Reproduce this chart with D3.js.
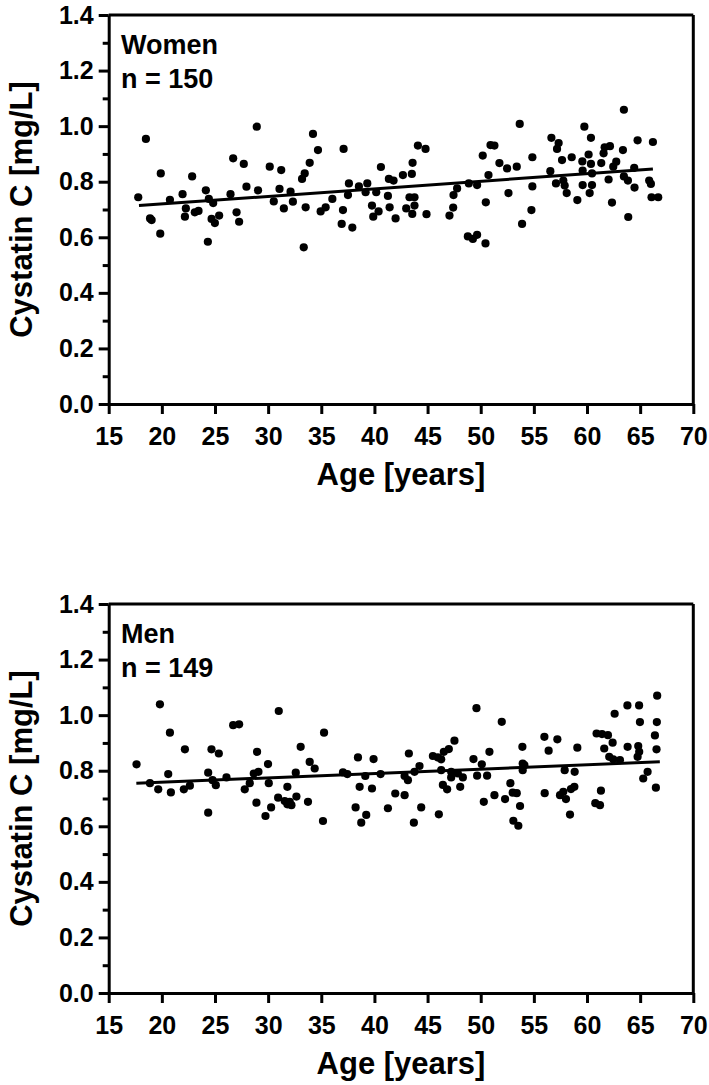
<!DOCTYPE html>
<html>
<head>
<meta charset="utf-8">
<script src="https://cdn.jsdelivr.net/npm/d3@7"></script>
<style>
  html, body { margin: 0; padding: 0; background: #fff; }
  svg { display: block; }
  text { font-family: 'Liberation Sans', Arial, sans-serif; font-weight: bold; fill: #000; }
</style>
</head>
<body>
<script>
// ---------- DATA ----------
const xTicks = [15, 20, 25, 30, 35, 40, 45, 50, 55, 60, 65, 70];
const yTicks = [0.0, 0.2, 0.4, 0.6, 0.8, 1.0, 1.2, 1.4];
const yMinorTicks = [0.1, 0.3, 0.5, 0.7, 0.9, 1.1, 1.3];

const xTitle = "Age [years]";
const yTitle = "Cystatin C [mg/L]";

const womenLabel = ["Women", "n = 150"];
const womenAge = [17.78,18.50,18.89,19.04,19.90,19.85,20.76,21.95,22.26,22.17,22.85,23.10,23.45,24.14,24.42,24.83,24.68,24.99,24.33,25.39,26.46,26.71,27.03,27.27,27.71,27.96,28.93,29.05,30.15,30.53,31.07,31.23,31.48,32.11,32.33,
  34.22,34.69,33.91,33.44,33.19,33.35,33.53,34.94,35.41,36.04,37.10,37.04,36.92,37.92,37.60,37.51,38.54,39.17,39.33,40.17,40.61,39.77,40.39,39.89,41.36,41.80,41.27,41.43,41.99,42.68,43.52,43.59,43.30,43.77,42.99,43.77,43.56,44.09,44.81,44.90,47.06,47.41,47.44,47.78,48.79,49.26,49.66,50.45,50.48,48.88,49.66,50.19,50.92,50.73,
  51.29,53.67,51.76,52.48,53.39,52.61,54.86,54.86,54.77,53.89,56.65,57.33,57.18,57.65,56.55,57.08,57.77,57.90,58.09,58.56,59.09,59.75,60.37,59.56,60.15,60.37,59.59,59.59,60.47,60.25,60.47,61.34,61.56,61.66,62.16,62.47,62.75,62.03,62.35,63.38,63.47,63.47,63.85,64.44,64.47,63.88,64.76,66.20,65.85,66.01,66.07,66.70];
const womenCysC = [0.744,0.954,0.668,0.662,0.830,0.613,0.735,0.755,0.704,0.674,0.819,0.690,0.695,0.769,0.738,0.723,0.666,0.651,0.584,0.678,0.755,0.884,0.690,0.656,0.864,0.782,0.998,0.769,0.854,0.729,0.774,0.842,0.704,0.764,0.728,
  0.972,0.914,0.868,0.830,0.810,0.564,0.708,0.693,0.708,0.738,0.918,0.698,0.648,0.635,0.794,0.752,0.783,0.762,0.794,0.762,0.853,0.714,0.693,0.674,0.810,0.804,0.749,0.708,0.668,0.824,0.828,0.868,0.744,0.744,0.704,0.714,0.684,0.930,0.918,0.683,0.678,0.707,0.752,0.776,0.603,0.594,0.609,0.578,0.726,0.794,0.788,0.894,0.932,0.824,
  0.930,1.008,0.867,0.848,0.854,0.759,0.888,0.783,0.698,0.648,0.958,0.939,0.918,0.878,0.838,0.794,0.804,0.786,0.759,0.888,0.734,0.998,0.958,0.873,0.898,0.864,0.840,0.788,0.788,0.759,0.830,0.867,0.902,0.924,0.928,0.854,0.872,0.808,0.725,0.914,1.059,0.819,0.804,0.850,0.779,0.673,0.949,0.943,0.804,0.792,0.744,0.744];
const womenFitAge = [17.85, 66.2];
const womenFitCysC = [0.714, 0.846];

const menLabel = ["Men", "n = 149"];
const menAge = [17.62,20.76,18.88,19.66,20.60,20.85,22.17,22.07,22.64,24.36,24.67,25.36,24.36,24.77,25.08,26.08,26.71,27.27,27.80,28.27,28.96,28.65,29.09,28.90,29.75,29.99,30.06,30.28,30.94,31.56,31.81,32.19,32.03,31.81,32.60,32.66,
  33.06,33.91,34.38,35.26,33.75,35.16,37.04,37.45,38.45,38.61,38.23,39.23,38.76,39.14,39.92,39.77,40.58,41.27,41.96,42.84,42.84,43.15,43.24,43.77,44.24,43.71,44.40,45.50,45.97,46.28,46.53,47.00,47.53,46.28,46.44,46.84,47.22,47.22,47.85,46.06,48.07,48.32,49.32,49.66,50.10,50.60,50.82,50.29,
  51.29,51.98,52.29,52.79,53.01,53.39,53.70,53.07,53.54,53.92,53.95,54.11,53.95,55.99,56.39,57.21,56.02,57.46,57.77,58.02,58.49,58.81,58.40,57.90,58.84,59.09,60.90,61.41,61.97,62.41,61.62,62.09,62.47,63.10,61.31,60.78,61.22,63.82,64.82,64.91,64.76,64.98,66.57,66.39,66.54,65.70,65.29,66.48,
  19.82,31.00,49.60,62.60,63.80,64.90,66.60];
const menCysC = [0.823,0.937,0.755,0.733,0.788,0.722,0.877,0.733,0.746,0.793,0.877,0.862,0.649,0.766,0.748,0.776,0.964,0.967,0.733,0.755,0.868,0.790,0.796,0.685,0.637,0.824,0.755,0.668,0.703,0.691,0.679,0.676,0.688,0.742,0.793,0.707,
  0.886,0.832,0.808,0.937,0.688,0.619,0.794,0.788,0.848,0.742,0.668,0.641,0.613,0.781,0.842,0.736,0.788,0.665,0.718,0.712,0.781,0.766,0.862,0.796,0.817,0.613,0.668,0.853,0.848,0.841,0.868,0.878,0.908,0.802,0.749,0.733,0.796,0.776,0.790,0.643,0.742,0.776,0.842,0.782,0.823,0.782,0.868,0.688,
  0.712,0.976,0.698,0.755,0.721,0.719,0.673,0.620,0.602,0.886,0.826,0.820,0.802,0.922,0.872,0.913,0.719,0.712,0.724,0.698,0.734,0.742,0.642,0.802,0.796,0.883,0.934,0.932,0.928,0.901,0.880,0.850,0.841,0.838,0.728,0.683,0.676,0.886,0.889,0.868,0.850,0.975,0.975,0.927,0.877,0.796,0.772,0.739,
  1.039,1.015,1.025,1.005,1.035,1.035,1.070];
const menFitAge = [17.6, 66.85];
const menFitCysC = [0.755, 0.832];

// ---------- LAYOUT ----------
const W = 709, H = 1085;
const plotLeft = 108.7, plotRight = 693.3, plotH = 389;
const svg = d3.select("body").append("svg").attr("width", W).attr("height", H);
const FONT = "'Liberation Sans', Arial, sans-serif";

function drawPanel(top, ages, vals, fitA, fitV, label) {
  const g = svg.append("g");
  const x = d3.scaleLinear().domain([15, 70]).range([plotLeft, plotRight]);
  const y = d3.scaleLinear().domain([0, 1.4]).range([top + plotH, top]);

  // frame top/right
  g.append("line").attr("x1", x(15)).attr("x2", x(70)).attr("y1", y(1.4)).attr("y2", y(1.4))
    .attr("stroke", "#000").attr("stroke-width", 3);
  g.append("line").attr("x1", x(70)).attr("x2", x(70)).attr("y1", y(1.4)).attr("y2", y(0))
    .attr("stroke", "#000").attr("stroke-width", 3);

  // minor y ticks
  const yMinor = g.append("g").attr("transform", `translate(${plotLeft},0)`)
    .call(d3.axisLeft(y).tickValues(yMinorTicks).tickSize(6).tickFormat(""));
  yMinor.select(".domain").remove();
  yMinor.selectAll("line").attr("stroke-width", 3);

  // major y axis
  const yAx = g.append("g").attr("transform", `translate(${plotLeft},0)`)
    .call(d3.axisLeft(y).tickValues(yTicks).tickSize(10).tickSizeOuter(0).tickPadding(5).tickFormat(d3.format(".1f")));
  yAx.select(".domain").attr("stroke-width", 3);
  yAx.selectAll("line").attr("stroke-width", 3);
  yAx.selectAll("text").style("font-size", "25px").style("font-family", FONT).style("font-weight", "bold");

  // x axis
  const xAx = g.append("g").attr("transform", `translate(0,${y(0)})`)
    .call(d3.axisBottom(x).tickValues(xTicks).tickSize(10).tickSizeOuter(0).tickPadding(13));
  xAx.select(".domain").attr("stroke-width", 3);
  xAx.selectAll("line").attr("stroke-width", 3);
  xAx.selectAll("text").style("font-size", "25px").style("font-family", FONT).style("font-weight", "bold");

  // axis titles
  g.append("text").attr("x", (plotLeft + plotRight) / 2).attr("y", top + plotH + 81)
    .attr("text-anchor", "middle").style("font-size", "31px").text(xTitle);
  g.append("text").attr("transform", `translate(32,${top + plotH / 2}) rotate(-90)`)
    .attr("text-anchor", "middle").style("font-size", "31px").text(yTitle);

  // legend text
  g.append("text").attr("x", 121).attr("y", top + 39).style("font-size", "27px").text(label[0]);
  g.append("text").attr("x", 121).attr("y", top + 73).style("font-size", "27px").text(label[1]);

  // points
  const pts = ages.map((a, i) => ({ a, v: vals[i] }));
  g.append("g").selectAll("circle").data(pts).join("circle")
    .attr("cx", d => x(d.a)).attr("cy", d => y(d.v)).attr("r", 4.1).attr("fill", "#000");

  // regression line
  const fit = fitA.map((a, i) => [a, fitV[i]]);
  g.append("path").datum(fit)
    .attr("d", d3.line().x(d => x(d[0])).y(d => y(d[1])))
    .attr("fill", "none").attr("stroke", "#000").attr("stroke-width", 3);
}

drawPanel(15, womenAge, womenCysC, womenFitAge, womenFitCysC, womenLabel);
drawPanel(604, menAge, menCysC, menFitAge, menFitCysC, menLabel);
</script>
</body>
</html>
